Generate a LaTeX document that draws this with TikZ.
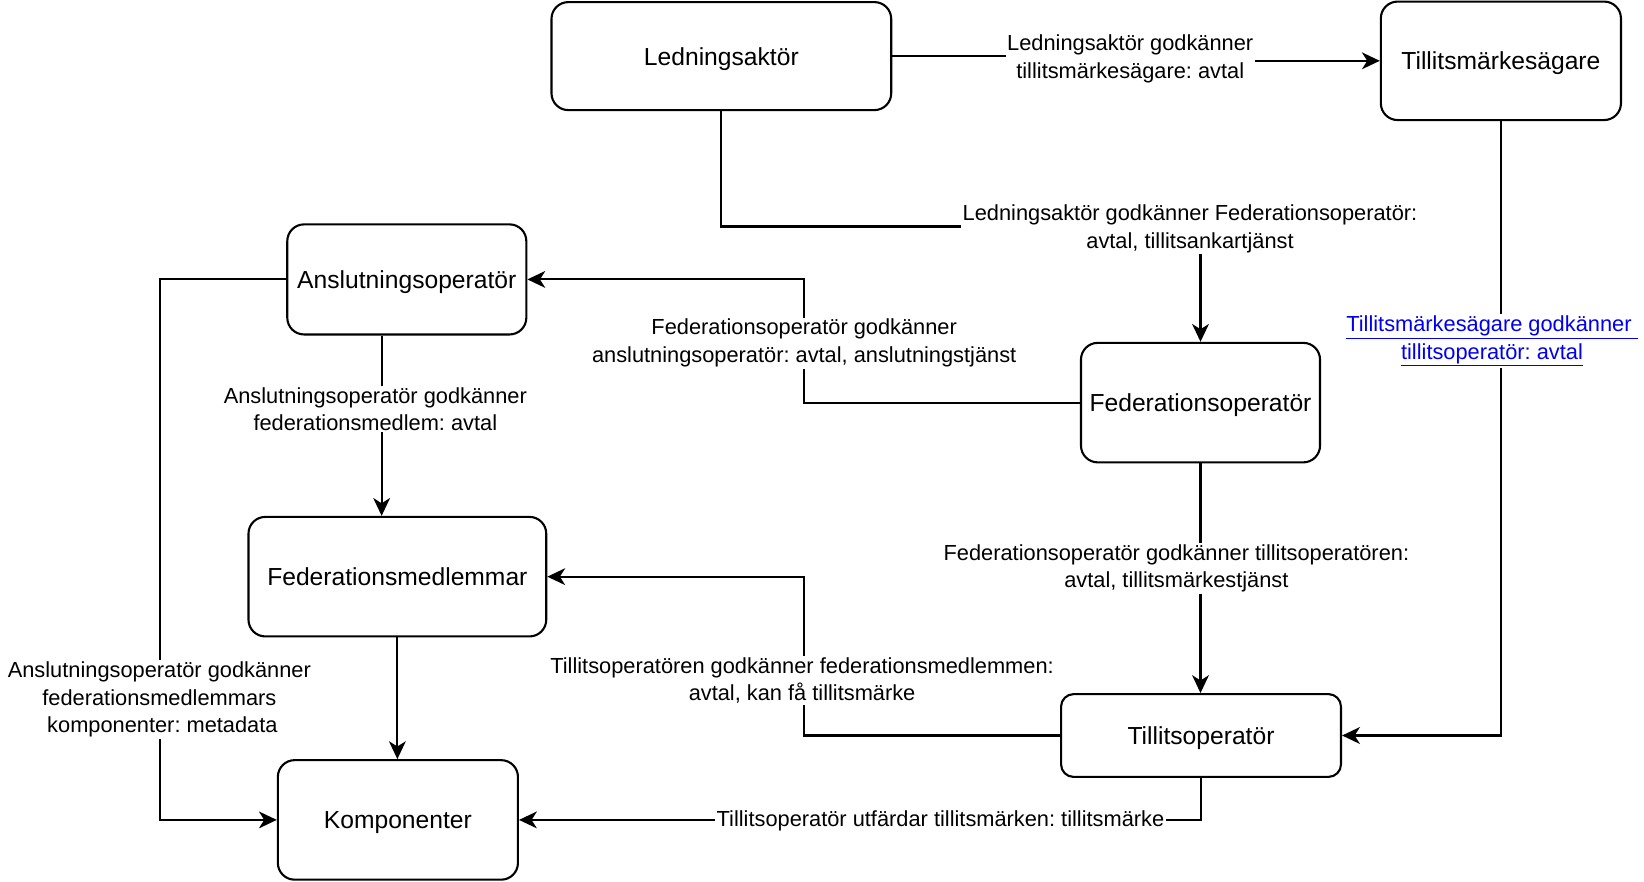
\documentclass[tikz,border=0pt]{standalone}
\usepackage{fontspec}
\setmainfont{Liberation Sans}
\usetikzlibrary{arrows.meta}
\definecolor{linkblue}{RGB}{0,0,238}
\frenchspacing
\begin{document}
\begin{tikzpicture}[x=1pt,y=-1pt,
  box/.style={draw, line width=2pt, rounded corners=16pt, font=\fontsize{23.5}{28}\selectfont, inner sep=0pt, text height=17.2pt, text depth=0pt},
  lbl/.style={fill=white, align=center, font=\fontsize{20.8}{26.3}\selectfont, inner sep=1.5pt, yshift=-2.2pt},
  arr/.style={line width=2pt, -{Stealth[length=17pt,width=16pt,inset=5pt]}}]
\useasboundingbox (0,0) rectangle (1568,841);

\node[box, minimum width=324, minimum height=103] (lead) at (688,53.5) {Ledningsaktör};
\node[box, minimum width=229, minimum height=113] (tms) at (1431.5,58) {Tillitsmärkesägare};
\node[box, minimum width=228, minimum height=105] (anop) at (388,266.5) {Anslutningsoperatör};
\node[box, minimum width=228, minimum height=114] (fedop) at (1145,384) {Federationsoperatör};
\node[box, minimum width=284, minimum height=114] (fedm) at (379,550) {Federationsmedlemmar};
\node[box, rounded corners=12pt, minimum width=267, minimum height=79] (tilop) at (1145.5,701.5) {Tillitsoperatör};
\node[box, minimum width=229, minimum height=114] (komp) at (379.5,782) {Komponenter};

% edges
\draw[arr] (lead.east) -- (1078,53.5) -- (1078,58) -- (tms.west);
\draw[arr] (lead.south) -- (688,216) -| (fedop.north);
\draw[arr] (fedop.west) -- (767,384) |- (anop.east);
\draw[arr] ([xshift=-24pt]anop.south) -- ([xshift=-24pt]anop.south |- fedm.north);
\draw[arr] (anop.west) -- (153,266.5) |- (komp.west);
\draw[arr] (fedm.south) -- (fedm.south |- komp.north);
\draw[arr] (fedop.south) -- (fedop.south |- tilop.north);
\draw[arr] (tilop.west) -- (767,701.5) |- (fedm.east);
\draw[arr] (tms.south) |- (tilop.east);
\draw[arr] (tilop.south) |- (komp.east);

% labels
\node[lbl] (l1) at (1078,54) {Ledningsaktör godkänner\\tillitsmärkesägare: avtal};
\node[lbl] (l2) at (1135,216) {Ledningsaktör godkänner Federationsoperatör:\\avtal, tillitsankartjänst};
\node[lbl] (l3) at (767,325) {Federationsoperatör godkänner\\anslutningsoperatör: avtal, anslutningstjänst};
\node[lbl] (l4) at (358,388) {Anslutningsoperatör godkänner\\federationsmedlem: avtal};
\node[lbl] (l5) at (152,665) {Anslutningsoperatör godkänner\\federationsmedlemmars\\\hspace*{5.8pt}komponenter: metadata};
\node[lbl] (l7) at (1122,540) {Federationsoperatör godkänner tillitsoperatören:\\avtal, tillitsmärkestjänst};
\node[lbl] (l8) at (765,647) {Tillitsoperatören godkänner federationsmedlemmen:\\avtal, kan få tillitsmärke};
\node[lbl, text=linkblue] (l9) at (1423,323) {\underline{Tillitsmärkesägare godkänner }\\\underline{tillitsoperatör: avtal}};
\node[lbl] (l10) at (897,781) {Tillitsoperatör utfärdar tillitsmärken: tillitsmärke};
\end{tikzpicture}
\end{document}
